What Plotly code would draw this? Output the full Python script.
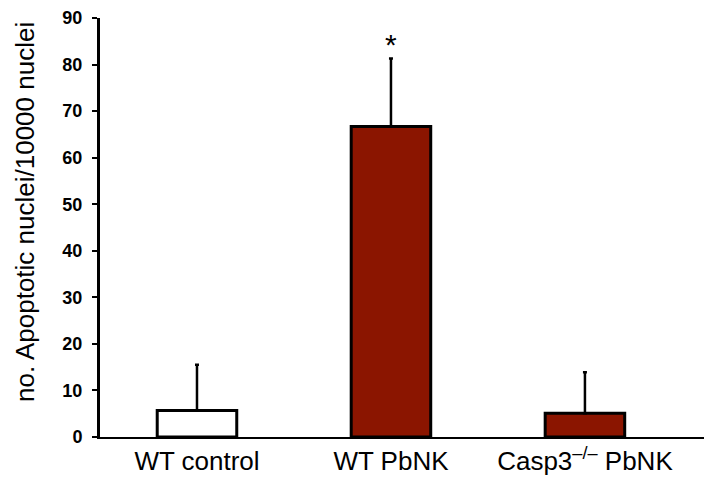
import plotly.graph_objects as go

categories = ["WT control", "WT PbNK", "Casp3<sup>–/–</sup> PbNK"]
means = [5.7, 66.7, 5.1]
errors_up = [9.8, 14.6, 8.8]
bar_colors = ["#ffffff", "#8b1500", "#8b1500"]
y_ticks = [0, 10, 20, 30, 40, 50, 60, 70, 80, 90]
sig_marks = ["", "*", ""]
y_title = "no. Apoptotic nuclei/10000 nuclei"

fig = go.Figure()
fig.add_trace(go.Bar(
    x=list(range(len(categories))),
    y=means,
    width=0.41,
    marker=dict(color=bar_colors, line=dict(color="black", width=3)),
    error_y=dict(type="data", symmetric=False, array=errors_up,
                 arrayminus=[0] * len(means), color="black",
                 thickness=2.5, width=2),
))

for i, s in enumerate(sig_marks):
    if s:
        fig.add_annotation(x=i, y=means[i] + errors_up[i], text=s,
                           showarrow=False, yshift=14,
                           font=dict(size=30, color="black",
                                     family="Liberation Sans, Arial"))

# y-axis title as a rotated annotation
fig.add_annotation(xref="paper", yref="paper", x=-75 / 612, y=0.537,
                   text=y_title, textangle=-90, showarrow=False,
                   xanchor="center", yanchor="middle",
                   font=dict(size=26, color="black",
                             family="Liberation Sans, Arial"))

fig.update_layout(
    width=704, height=472,
    margin=dict(l=92, r=0, t=10, b=43),
    plot_bgcolor="white", paper_bgcolor="white",
    showlegend=False,
    font=dict(family="Liberation Sans, Arial", color="black"),
    xaxis=dict(
        tickmode="array", tickvals=list(range(len(categories))),
        ticktext=categories, range=[-0.5, 2.655],
        showline=True, linecolor="black", linewidth=2,
        ticks="", showgrid=False, zeroline=False, automargin=False,
        tickfont=dict(size=26, color="black"),
    ),
    yaxis=dict(
        range=[0, 90], tickvals=y_ticks,
        ticktext=[f"<b>{v}</b>" for v in y_ticks],
        showline=True, linecolor="black", linewidth=3,
        ticks="outside", ticklen=5, tickwidth=2, tickcolor="black",
        showgrid=False, zeroline=False, automargin=False,
        ticklabelstandoff=6,
        tickfont=dict(size=18, color="black"),
    ),
)

fig.write_html("out.html")
